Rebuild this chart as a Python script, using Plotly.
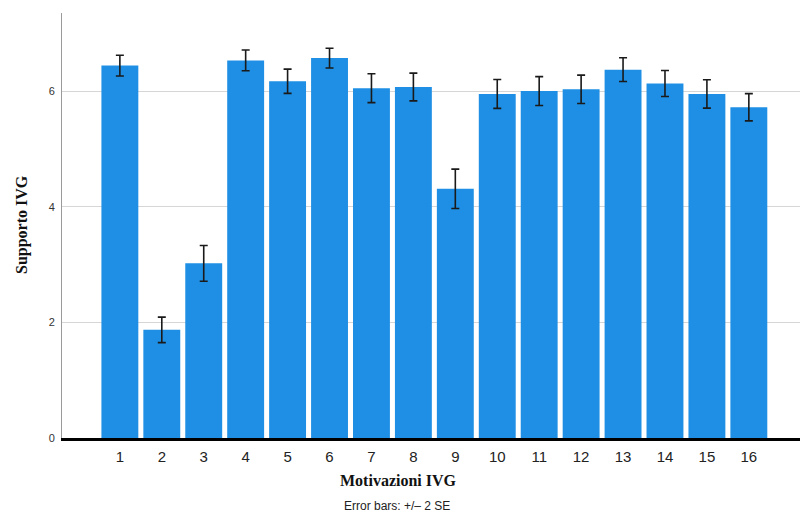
import plotly.graph_objects as go

categories = [str(i) for i in range(1, 17)]
means = [6.44, 1.87, 3.02, 6.53, 6.17, 6.57, 6.05, 6.07, 4.31, 5.95, 6.00, 6.03, 6.37, 6.13, 5.95, 5.72]
err_2se = [0.18, 0.22, 0.31, 0.18, 0.21, 0.17, 0.25, 0.24, 0.34, 0.25, 0.25, 0.245, 0.205, 0.225, 0.245, 0.235]
y_ticks = [0, 2, 4, 6]

x_pos = list(range(1, len(categories) + 1))

fig = go.Figure()
fig.add_trace(go.Bar(
    x=x_pos, y=means,
    marker=dict(color="#1E8FE4", line=dict(width=0)),
    width=0.88,
    error_y=dict(type="data", array=err_2se, visible=True, color="#1a1a1a", thickness=1.6, width=4),
))

fig.update_layout(
    width=800, height=522,
    margin=dict(l=62, r=0, t=13, b=84),
    plot_bgcolor="white", paper_bgcolor="white",
    showlegend=False,
    xaxis=dict(
        range=[-0.38, 17.22], tickvals=x_pos, ticktext=categories,
        showgrid=False, zeroline=False, showline=True, linecolor="#000000", linewidth=3,
        ticks="", tickfont=dict(family="Liberation Sans, Arial", size=15, color="#222"),
        ticklabelstandoff=3, automargin=False,
    ),
    yaxis=dict(
        range=[0, 7.35], tickvals=y_ticks, showgrid=True, gridcolor="#d6d6d6", gridwidth=1,
        zeroline=False, showline=True, linecolor="#9a9a9a", linewidth=1,
        ticks="", tickfont=dict(family="Liberation Sans, Arial", size=11, color="#333"),
        ticklabelstandoff=4, automargin=False,
    ),
)

plot_w = 800 - 62
plot_h = 522 - 13 - 84
def px(xp):
    return (xp - 62) / plot_w
def py(yp):
    return (522 - 84 - yp) / plot_h

fig.add_annotation(text="<b>Supporto IVG</b>", x=px(22), y=py(225), xref="paper", yref="paper",
                   showarrow=False, textangle=-90, xanchor="center", yanchor="middle",
                   font=dict(family="Liberation Serif, Times New Roman", size=16, color="#111"))
fig.add_annotation(text="<b>Motivazioni IVG</b>", x=px(398), y=py(480), xref="paper", yref="paper",
                   showarrow=False, xanchor="center", yanchor="middle",
                   font=dict(family="Liberation Serif, Times New Roman", size=16, color="#111"))
fig.add_annotation(text="Error bars: +/\u2013 2 SE", x=px(397), y=py(506), xref="paper", yref="paper",
                   showarrow=False, xanchor="center", yanchor="middle",
                   font=dict(family="Liberation Sans Narrow, Liberation Sans, Arial", size=12, color="#222"))

fig.write_html("out.html", config={"displayModeBar": False},
               post_script="document.body.style.margin='0px';")
